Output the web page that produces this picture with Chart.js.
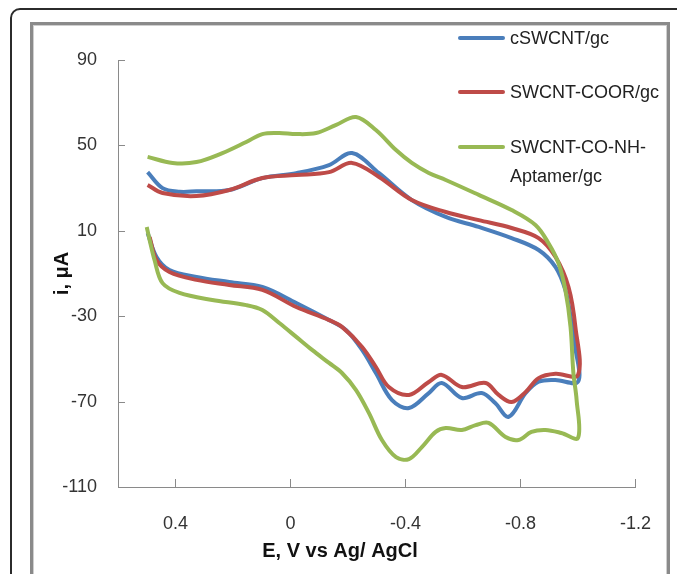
<!DOCTYPE html>
<html>
<head>
<meta charset="utf-8">
<script src="https://cdn.jsdelivr.net/npm/chart.js@4.4.0/dist/chart.umd.min.js"></script>
<style>
  body { margin: 0; width: 677px; height: 574px; overflow: hidden; background: #fff; position: relative;
         font-family: "Liberation Sans", Arial, sans-serif; }
  .outer { position: absolute; left: 10px; top: 8px; width: 720px; height: 620px;
           border: 2px solid #2b2b2b; border-radius: 10px; }
  .inner { position: absolute; left: 30px; top: 22px; width: 634px; height: 620px;
           border: 3px solid #8a8a8a; box-shadow: inset 1px 1px 0 #cfcfcf, inset -1px 0 0 #cfcfcf; }
  canvas { position: absolute; left: 0; top: 0; }
  .legend { position: absolute; left: 0; top: 0; font-size: 18px; color: #222; }
  .legend .item { position: absolute; left: 458px; white-space: nowrap; }
  .legend .swatch { position: absolute; left: 0; width: 47px; height: 4px; border-radius: 2px; }
  .legend .label { position: absolute; left: 52px; line-height: 29px; }
</style>
</head>
<body>
<div class="outer"></div>
<div class="inner"></div>
<canvas id="cvChart" width="677" height="574"></canvas>
<div class="legend" id="legend"></div>
<script>
Chart.defaults.animation = false;

// --- Data (potential in V, current in µA) ---
const seriesNames = ['cSWCNT/gc', 'SWCNT-COOR/gc', 'SWCNT-CO-NH-Aptamer/gc'];
const seriesColors = ['#4a7ebb', '#be4b48', '#98b954'];

const cswcntE = [0.497, 0.445, 0.386, 0.327, 0.213, 0.098, -0.02, -0.134, -0.214, -0.308, -0.422, -0.54, -0.655, -0.769, -0.863, -0.922, -0.956, -0.974, -0.991, -1.0,
                 -0.921, -0.863, -0.818, -0.759, -0.712, -0.665, -0.596, -0.526, -0.481, -0.412, -0.353, -0.297, -0.249, -0.193, -0.134, -0.02, 0.098, 0.213, 0.327, 0.421, 0.466, 0.497];
const cswcntI = [37.5, 30, 28.3, 28.5, 29.1, 34.7, 37, 40.8, 46.4, 37, 24.4, 16.5, 11.8, 6.6, 1, -7, -17.7, -30, -45, -60.7,
                 -59.9, -60.7, -66, -77.1, -70.7, -66, -68.3, -61.3, -66, -73, -69.3, -56.6, -45.8, -36.5, -31.8, -23.8, -16.3, -14, -11.6, -8.4, -2.3, 9];

const coorE = [0.497, 0.445, 0.327, 0.213, 0.098, -0.02, -0.134, -0.214, -0.308, -0.422, -0.54, -0.655, -0.769, -0.863, -0.922, -0.967, -0.991, -1.0,
               -0.922, -0.863, -0.818, -0.769, -0.724, -0.679, -0.596, -0.526, -0.481, -0.412, -0.342, -0.297, -0.249, -0.179, -0.134, -0.02, 0.098, 0.213, 0.327, 0.421, 0.466, 0.49];
const coorI = [31.5, 27.7, 26.3, 29.1, 34.7, 36.1, 37.5, 41.8, 35.2, 24.4, 18.8, 15, 11.3, 6.6, -2.3, -16.3, -35, -57.5,
               -57, -59, -65.5, -70.2, -66.9, -61.3, -63.2, -57.5, -60.8, -66.9, -63.2, -53.8, -44.4, -35, -31.8, -25.7, -17.7, -15.4, -13, -9.3, -3.7, 7.1];

const aptamerE = [0.497, 0.41, 0.327, 0.237, 0.154, 0.098, 0.039, -0.02, -0.089, -0.159, -0.228, -0.297, -0.367, -0.422, -0.481, -0.54, -0.655, -0.769, -0.852, -0.897, -0.932, -0.956, -0.974, -0.984, -0.995, -1.0,
                  -0.942, -0.887, -0.838, -0.793, -0.748, -0.689, -0.644, -0.596, -0.54, -0.505, -0.457, -0.412, -0.367, -0.318, -0.273, -0.228, -0.179, -0.134, -0.075, -0.02, 0.039, 0.098, 0.154, 0.272, 0.386, 0.445, 0.473, 0.49, 0.5];
const aptamerI = [44.6, 41.8, 42.2, 46.4, 51.6, 55.3, 55.8, 55.3, 55.8, 59.6, 63.3, 57.2, 47.8, 41.8, 37.1, 33.8, 26.8, 19.7, 12.7, 4.3, -5.1, -17.7, -35, -56.6, -69, -87,
                  -84.7, -83.3, -84.2, -88, -86.6, -80, -81, -83.3, -82.4, -84.2, -91.3, -96.9, -96, -88, -75.4, -64.6, -56.6, -51.9, -45.8, -39.7, -33.2, -27.1, -24.8, -22.4, -19.1, -14.5, -3.7, 5.7, 11.8];

// --- Axes ---
const xMin = -1.2, xMax = 0.6;
const xTickValues = [0.4, 0, -0.4, -0.8, -1.2];
const yMin = -110, yMax = 90, yStep = 40;
const xTitle = 'E, V vs Ag/ AgCl';
const yTitle = 'i, μA';

function toPoints(xs, ys) {
  return xs.map((v, i) => ({ x: v, y: ys[i] }));
}

const allSeries = [toPoints(cswcntE, cswcntI), toPoints(coorE, coorI), toPoints(aptamerE, aptamerI)];

// inward tick marks and the x-axis title
const innerTicks = {
  id: 'innerTicks',
  afterDraw(chart) {
    const { ctx, scales: { x, y } } = chart;
    ctx.save();
    ctx.strokeStyle = '#8a8a8a';
    ctx.lineWidth = 1;
    ctx.beginPath();
    y.ticks.forEach(t => {
      const py = Math.round(y.getPixelForValue(t.value)) + 0.5;
      ctx.moveTo(y.right, py);
      ctx.lineTo(y.right + 7, py);
    });
    x.ticks.forEach(t => {
      const px = Math.round(x.getPixelForValue(t.value)) + 0.5;
      ctx.moveTo(px, x.top);
      ctx.lineTo(px, x.top - 8);
    });
    ctx.stroke();
    ctx.fillStyle = '#111';
    ctx.font = 'bold 20px "Liberation Sans Narrow", "Liberation Sans", Arial, sans-serif';
    ctx.textAlign = 'center';
    ctx.textBaseline = 'middle';
    ctx.fillText(xTitle, 340, 551);
    ctx.restore();
  }
};

new Chart(document.getElementById('cvChart'), {
  type: 'scatter',
  data: {
    datasets: allSeries.map((pts, i) => ({
      label: seriesNames[i],
      data: pts,
      showLine: true,
      borderColor: seriesColors[i],
      backgroundColor: seriesColors[i],
      borderWidth: 4,
      pointRadius: 0,
      tension: 0.35,
      order: 3 - i
    }))
  },
  options: {
    responsive: false,
    layout: { padding: { left: 0, right: 40, top: 60, bottom: 0 } },
    plugins: { legend: { display: false }, tooltip: { enabled: false } },
    scales: {
      x: {
        type: 'linear',
        min: xMin, max: xMax,
        reverse: true,
        afterFit: s => { s.height = 87; },
        afterBuildTicks: s => { s.ticks = xTickValues.map(v => ({ value: v })); },
        grid: { drawOnChartArea: false, drawTicks: false },
        border: { color: '#8a8a8a', width: 1 },
        ticks: { padding: 26, color: '#333',
                 font: { size: 18, family: '"Liberation Sans", Arial, sans-serif' } }
      },
      y: {
        min: yMin, max: yMax,
        afterFit: s => { s.width = 118; },
        grid: { drawOnChartArea: false, drawTicks: false },
        border: { color: '#8a8a8a', width: 1 },
        ticks: { stepSize: yStep, padding: 21, color: '#333',
                 font: { size: 18, family: '"Liberation Sans", Arial, sans-serif' } },
        title: { display: true, text: yTitle, color: '#111', padding: { top: 50, bottom: 0 },
                 font: { size: 20, weight: 'bold', family: '"Liberation Sans Narrow", "Liberation Sans", Arial, sans-serif' } }
      }
    }
  },
  plugins: [innerTicks]
});

// --- HTML legend ---
const legendRows = [38, 92, 147];
const legendText = [['cSWCNT/gc'], ['SWCNT-COOR/gc'], ['SWCNT-CO-NH-', 'Aptamer/gc']];
const legendEl = document.getElementById('legend');
legendText.forEach((lines, i) => {
  const item = document.createElement('div');
  item.className = 'item';
  item.style.top = legendRows[i] + 'px';
  const sw = document.createElement('div');
  sw.className = 'swatch';
  sw.style.background = seriesColors[i];
  sw.style.top = '-2px';
  item.appendChild(sw);
  lines.forEach((txt, k) => {
    const lab = document.createElement('div');
    lab.className = 'label';
    lab.style.top = (-14.5 + k * 29) + 'px';
    lab.textContent = txt;
    item.appendChild(lab);
  });
  legendEl.appendChild(item);
});
</script>
</body>
</html>
